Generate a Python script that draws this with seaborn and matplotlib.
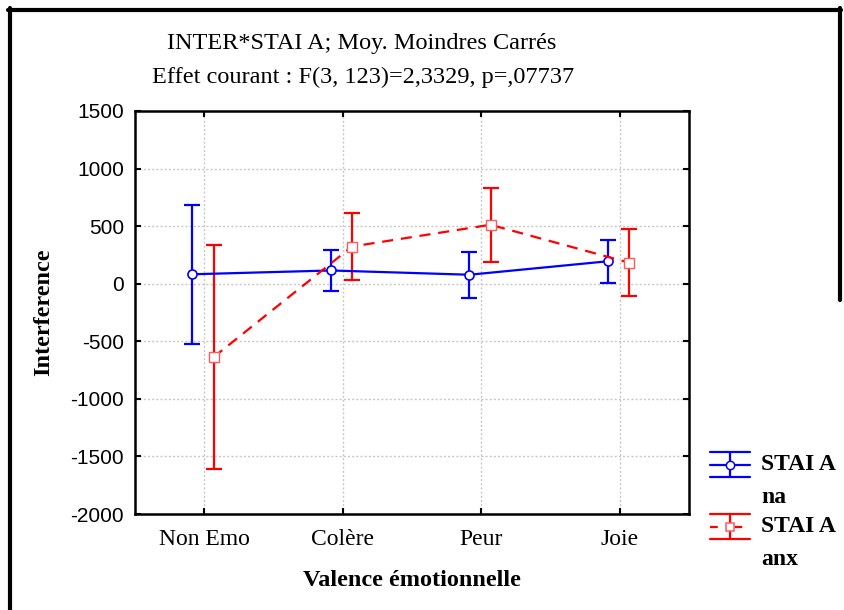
import numpy as np
import pandas as pd
import matplotlib
matplotlib.use("Agg")
import matplotlib.pyplot as plt
from matplotlib.lines import Line2D
import seaborn as sns

# Least-squares means of interference by emotional valence, per STAI A group
categories = ["Non Emo", "Colère", "Peur", "Joie"]
na_mean = [82, 115, 78, 195]
na_err = [605, 180, 198, 187]
anx_mean = [-638, 323, 512, 183]
anx_err = [975, 290, 323, 291]
y_ticks = [-2000, -1500, -1000, -500, 0, 500, 1000, 1500]

title_1 = "INTER*STAI A; Moy. Moindres Carrés"
title_2 = "Effet courant : F(3, 123)=2,3329, p=,07737"
x_title = "Valence émotionnelle"
y_title = "Interference"
groups = ["STAI A\nna", "STAI A\nanx"]

sns.set_theme(style="white")
plt.rcParams["font.family"] = ["Liberation Serif", "DejaVu Serif"]
plt.rcParams["axes.unicode_minus"] = False
plt.rcParams["text.color"] = "black"
plt.rcParams["xtick.color"] = "black"
plt.rcParams["ytick.color"] = "black"

SERIF = "Liberation Serif"
SANS = "Liberation Sans"
BLUE = "#0000ff"
RED = "#ff0000"

W, H = 844, 610
fig = plt.figure(figsize=(W / 100, H / 100), dpi=100)
fig.patch.set_facecolor("white")


def fx(px):
    return px / W


def fy(py):
    return 1 - py / H


ax = fig.add_axes([fx(135), fy(514), fx(689) - fx(135), fy(111) - fy(514)])
ax.set_facecolor("white")

xpos = np.arange(len(categories))
dodge_na, dodge_anx = -0.085, 0.067

df = pd.DataFrame({
    "x": np.concatenate([xpos + dodge_na, xpos + dodge_anx]),
    "moyenne": na_mean + anx_mean,
    "erreur": na_err + anx_err,
    "groupe": ["na"] * 4 + ["anx"] * 4,
})
d_na = df[df.groupe == "na"]
d_anx = df[df.groupe == "anx"]

# error bars
ax.errorbar(d_na.x, d_na.moyenne, yerr=d_na.erreur, fmt="none", ecolor=BLUE,
            elinewidth=1.6, capsize=5.5, capthick=1.6, zorder=3)
ax.errorbar(d_anx.x, d_anx.moyenne, yerr=d_anx.erreur, fmt="none", ecolor=RED,
            elinewidth=1.6, capsize=5.5, capthick=1.6, zorder=3)

# mean lines
sns.lineplot(data=d_na, x="x", y="moyenne", ax=ax, color=BLUE, lw=1.6,
             marker="o", markersize=6.5, markerfacecolor="white",
             markeredgecolor=BLUE, markeredgewidth=1.2, sort=False,
             legend=False, zorder=4)
sns.lineplot(data=d_anx, x="x", y="moyenne", ax=ax, color=RED, lw=1.6,
             marker="s", markersize=6.5, markerfacecolor="white",
             markeredgecolor="#ff5a5a", markeredgewidth=1.0, sort=False,
             legend=False, zorder=4)
ax.lines[-1].set_dashes((5, 3.5))

ax.set_xlim(-0.5, 3.5)
ax.set_ylim(-2000, 1500)
ax.set_xticks(xpos)
ax.set_xticklabels(categories, fontfamily=SERIF, fontsize=17, color="black")
ax.set_yticks(y_ticks)
ax.set_yticklabels([str(v) for v in y_ticks], fontfamily=SANS, fontsize=15, color="black")
ax.set_xlabel("")
ax.set_ylabel("")
ax.tick_params(axis="both", direction="in", length=4, width=1.5, colors="black",
               top=True, right=True, bottom=True, left=True)
ax.tick_params(axis="x", pad=11)
ax.tick_params(axis="y", pad=8)
ax.grid(True, color="#c8c8c8", linestyle=(0, (1.5, 1.5)), linewidth=1.0)
ax.set_axisbelow(True)
for s in ax.spines.values():
    s.set_visible(True)
    s.set_color("black")
    s.set_linewidth(1.8)

# titles and axis names
fig.text(fx(362), fy(44), title_1, ha="center", va="center", fontsize=17.5,
         fontfamily=SERIF, color="black")
fig.text(fx(363), fy(77), title_2, ha="center", va="center", fontsize=17.5,
         fontfamily=SERIF, color="black")
fig.text(fx(412), fy(580), x_title, ha="center", va="center", fontsize=17.5,
         fontfamily=SERIF, fontweight="bold", color="black")
fig.text(fx(44), fy(312), y_title, ha="center", va="center", rotation=90,
         fontsize=17.5, fontfamily=SERIF, fontweight="bold", color="black")


# legend glyphs drawn beside the plot
def legend_entry(cy, color, marker, mec, dashed, label):
    x0, x1 = 710, 750
    xm = (x0 + x1) / 2
    lw = 1.6
    for yy in (cy - 12.5, cy + 12.5):
        fig.add_artist(Line2D([fx(x0), fx(x1)], [fy(yy), fy(yy)], color=color, lw=lw))
    fig.add_artist(Line2D([fx(xm), fx(xm)], [fy(cy - 12.5), fy(cy + 12.5)], color=color, lw=lw))
    mid = Line2D([fx(x0), fx(x1)], [fy(cy), fy(cy)], color=color, lw=lw)
    if dashed:
        mid.set_dashes((3.5, 7.5))
    fig.add_artist(mid)
    fig.add_artist(Line2D([fx(xm)], [fy(cy)], marker=marker, markersize=6,
                          markerfacecolor="white", markeredgecolor=mec,
                          markeredgewidth=1.1, lw=0))
    first, second = label.split("\n")
    fig.text(fx(761), fy(cy), first, ha="left", va="center", fontsize=17,
             fontfamily=SERIF, fontweight="bold", color="black")
    fig.text(fx(761), fy(cy + 33), second, ha="left", va="center", fontsize=17,
             fontfamily=SERIF, fontweight="bold", color="black")


legend_entry(464.5, BLUE, "o", BLUE, False, groups[0])
legend_entry(526.5, RED, "s", "#ff5a5a", True, groups[1])

# outer frame
fig.add_artist(Line2D([fx(10), fx(10)], [fy(8), fy(610)], color="black", lw=3))
fig.add_artist(Line2D([fx(8), fx(841)], [fy(10), fy(10)], color="black", lw=3))
fig.add_artist(Line2D([fx(840), fx(840)], [fy(8), fy(300)], color="black", lw=3))

fig.savefig("out.png", dpi=100, facecolor="white")
